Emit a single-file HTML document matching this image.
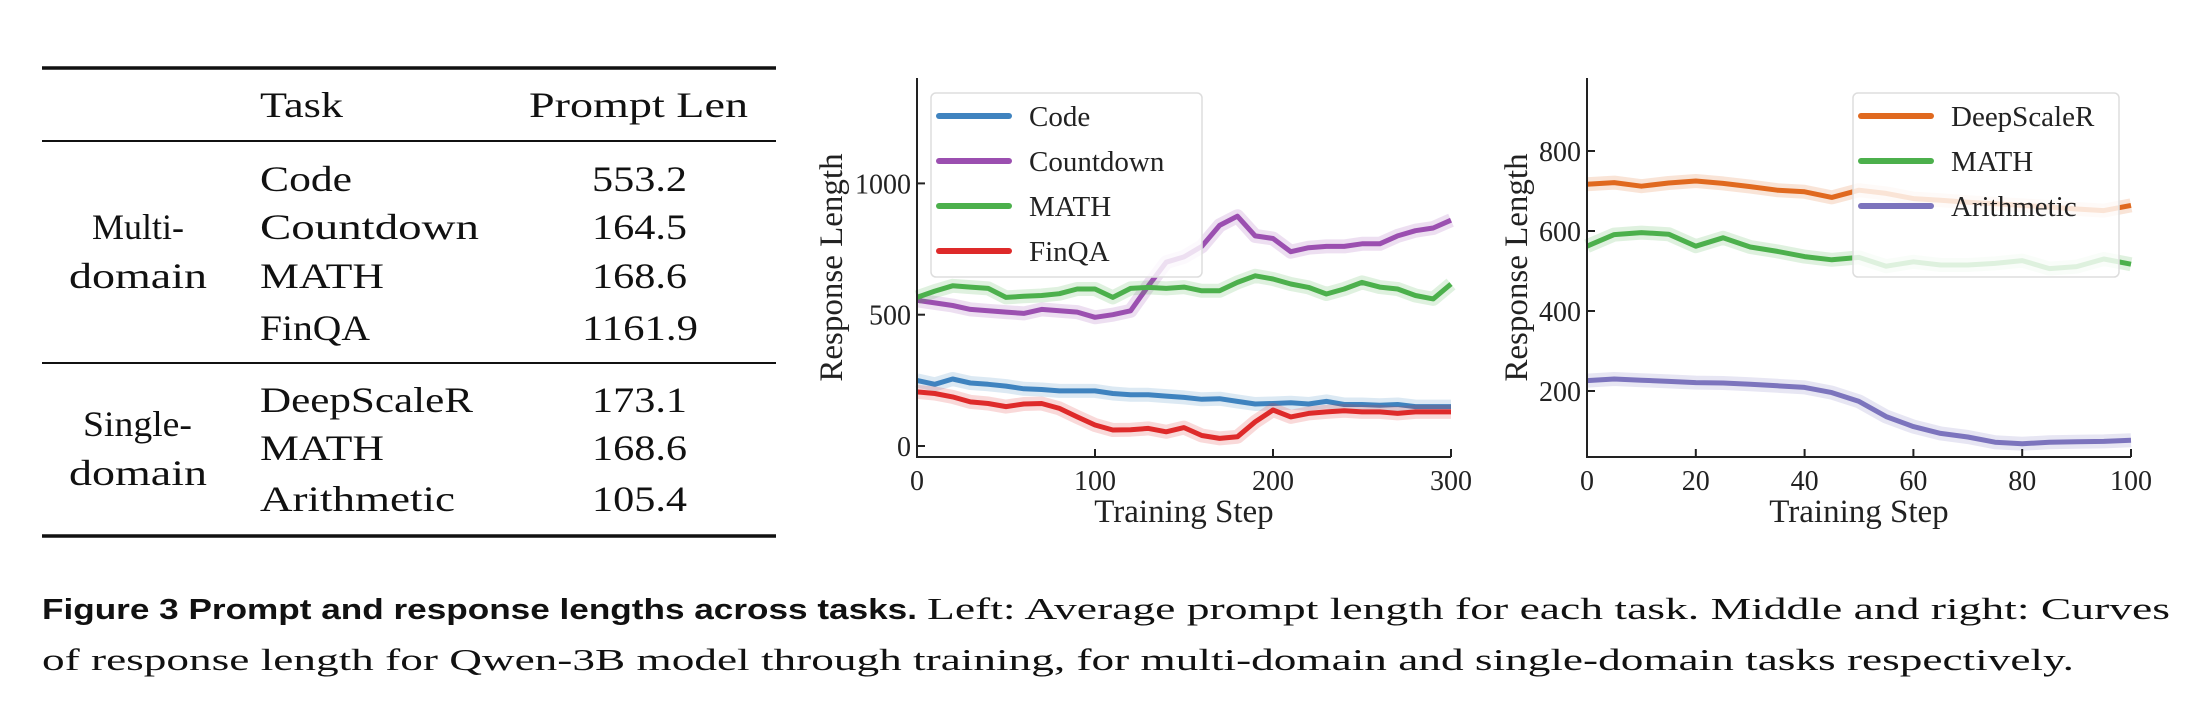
<!DOCTYPE html>
<html><head><meta charset="utf-8"><style>
body{margin:0;background:#fff;width:2212px;height:716px;overflow:hidden;font-family:"Liberation Serif",serif;}
svg{position:absolute;left:0;top:0}
</style></head><body>
<svg id="s" width="2212" height="716" xmlns="http://www.w3.org/2000/svg">
<g font-family="Liberation Serif, serif" font-size="36" fill="#111">
<line x1="42" x2="776" y1="68" y2="68" stroke="#111" stroke-width="3.5"/>
<line x1="42" x2="776" y1="141" y2="141" stroke="#111" stroke-width="2"/>
<line x1="42" x2="776" y1="363" y2="363" stroke="#111" stroke-width="2"/>
<line x1="42" x2="776" y1="536" y2="536" stroke="#111" stroke-width="3.5"/>
<text x="260" y="117" textLength="83" lengthAdjust="spacingAndGlyphs">Task</text>
<text x="529" y="117" textLength="219" lengthAdjust="spacingAndGlyphs">Prompt Len</text>
<text x="92" y="239" textLength="92" lengthAdjust="spacingAndGlyphs">Multi-</text>
<text x="69" y="288" textLength="138" lengthAdjust="spacingAndGlyphs">domain</text>
<text x="83" y="436" textLength="109" lengthAdjust="spacingAndGlyphs">Single-</text>
<text x="69" y="485" textLength="138" lengthAdjust="spacingAndGlyphs">domain</text>
<text x="260" y="191" textLength="92" lengthAdjust="spacingAndGlyphs">Code</text><text x="592" y="191" textLength="95" lengthAdjust="spacingAndGlyphs">553.2</text>
<text x="260" y="239" textLength="219" lengthAdjust="spacingAndGlyphs">Countdown</text><text x="592" y="239" textLength="95" lengthAdjust="spacingAndGlyphs">164.5</text>
<text x="260" y="288" textLength="124" lengthAdjust="spacingAndGlyphs">MATH</text><text x="592" y="288" textLength="95" lengthAdjust="spacingAndGlyphs">168.6</text>
<text x="260" y="340" textLength="110" lengthAdjust="spacingAndGlyphs">FinQA</text><text x="582" y="340" textLength="116" lengthAdjust="spacingAndGlyphs">1161.9</text>
<text x="260" y="412" textLength="213" lengthAdjust="spacingAndGlyphs">DeepScaleR</text><text x="592" y="412" textLength="95" lengthAdjust="spacingAndGlyphs">173.1</text>
<text x="260" y="460" textLength="124" lengthAdjust="spacingAndGlyphs">MATH</text><text x="592" y="460" textLength="95" lengthAdjust="spacingAndGlyphs">168.6</text>
<text x="260" y="511" textLength="195" lengthAdjust="spacingAndGlyphs">Arithmetic</text><text x="592" y="511" textLength="95" lengthAdjust="spacingAndGlyphs">105.4</text>
</g>
<g id="c1"></g>
<g id="c2"></g>
<g font-size="31" fill="#111">
<text x="42" y="619" textLength="875" lengthAdjust="spacingAndGlyphs" font-family="Liberation Sans, sans-serif" font-weight="bold" font-size="29">Figure 3  Prompt and response lengths across tasks.</text>
<text x="927" y="619" textLength="1243" lengthAdjust="spacingAndGlyphs" font-family="Liberation Serif, serif">Left: Average prompt length for each task. Middle and right: Curves</text>
<text x="42" y="670" textLength="2032" lengthAdjust="spacingAndGlyphs" font-family="Liberation Serif, serif">of response length for Qwen-3B model through training, for multi-domain and single-domain tasks respectively.</text>
</g>
</svg>
<script>
const steps1=[0,10,20,30,40,50,60,70,80,90,100,110,120,130,140,150,160,170,180,190,200,210,220,230,240,250,260,270,280,290,300];
const code=[250,235,255,240,235,228,218,215,210,210,210,200,195,195,190,185,178,180,170,160,162,165,160,170,158,158,155,158,150,150,150];
const countdown=[555,545,535,520,515,510,505,520,515,510,490,500,515,610,700,720,760,840,875,800,790,740,755,760,760,770,770,800,820,830,860];
const math1=[566,590,610,605,600,566,570,573,580,598,598,566,600,604,600,605,591,591,623,648,636,617,604,579,598,623,605,598,573,560,617];
const finqa=[206,200,187,168,162,150,160,162,143,111,80,61,62,67,54,70,40,29,35,92,137,111,124,130,134,130,130,124,130,130,130];
const ticks1x=[0,100,200,300];
const ticks1y=[0,500,1000];
const steps2=[0,5,10,15,20,25,30,35,40,45,50,55,60,65,70,75,80,85,90,95,100];
const deepscaler=[717,721,712,720,725,719,711,702,698,684,702,694,681,677,672,668,664,660,655,651,664];
const math2=[562,591,596,592,562,583,560,549,536,528,534,512,523,515,515,519,526,506,511,530,517];
const arithmetic=[226,230,227,224,221,220,217,213,209,196,174,136,111,94,85,72,68,72,73,74,77];
const ticks2x=[0,20,40,60,80,100];
const ticks2y=[200,400,600,800];
const NS='http://www.w3.org/2000/svg';
function mk(p,tag,attrs){const e=document.createElementNS(NS,tag);for(const k in attrs)e.setAttribute(k,attrs[k]);p.appendChild(e);return e;}
function chart(g,o){
  const sx=v=>o.x0+(v-o.xmin)/(o.xmax-o.xmin)*(o.x1-o.x0);
  const sy=v=>o.yA+(v-o.vA)/(o.vB-o.vA)*(o.yB-o.yA);
  o.series.forEach(s=>{
    const d=s.vals.map((v,i)=>(i?'L':'M')+sx(o.steps[i]).toFixed(1)+' '+sy(v).toFixed(1)).join(' ');
    const h=mk(g,'path',{d:d,fill:'none',stroke:s.color,'stroke-opacity':0.18,'stroke-width':14,'stroke-linejoin':'round'});
    
    
    const p=mk(g,'path',{d:d,fill:'none',stroke:s.color,'stroke-width':5,'stroke-linejoin':'round'});
    
    
  });
  const ax=mk(g,'path',{d:`M${o.x0} ${o.top} L${o.x0} ${o.bot} L${o.x1} ${o.bot}`,fill:'none',stroke:'#222','stroke-width':2});
  
  
  o.tx.forEach(t=>{
    const x=sx(t);
    mk(g,'line',{x1:x,x2:x,y1:o.bot,y2:o.bot-8,stroke:'#222','stroke-width':2});
    const tt=mk(g,'text',{x:x,y:o.bot+33,'text-anchor':'middle','font-size':28,fill:'#222'});
    tt.textContent=t;
    
    
  });
  o.ty.forEach(t=>{
    const y=sy(t);
    mk(g,'line',{x1:o.x0,x2:o.x0+8,y1:y,y2:y,stroke:'#222','stroke-width':2});
    const tt=mk(g,'text',{x:o.x0-6,y:y+10,'text-anchor':'end','font-size':28,fill:'#222'});
    tt.textContent=t;
    
    
  });
  const xl=mk(g,'text',{x:(o.x0+o.x1)/2,y:o.bot+65,'text-anchor':'middle','font-size':33,fill:'#222'});
  xl.textContent='Training Step';
  
  
  const yl=mk(g,'text',{x:0,y:0,'text-anchor':'middle','font-size':33,fill:'#222',transform:`translate(${o.ylx},${(o.top+o.bot)/2}) rotate(-90)`});
  yl.textContent='Response Length';
  
  
  const lg=mk(g,'g',{});
  
  
  mk(lg,'rect',{x:o.lx,y:93,width:o.lw,height:184,rx:5,fill:'#fff','fill-opacity':0.82,stroke:'#ddd','stroke-width':1.5});
  o.series.forEach((s,i)=>{
    const y=116+i*45;
    mk(lg,'line',{x1:o.lx+8,x2:o.lx+78,y1:y,y2:y,stroke:s.color,'stroke-width':6,'stroke-linecap':'round'});
    const t=mk(lg,'text',{x:o.lx+98,y:y+10,'font-size':29,fill:'#222'});
    t.textContent=s.label;
    
    
  });
}
chart(document.getElementById('c1'),{x0:917,x1:1451,xmin:0,xmax:300,yA:446,vA:0,yB:183.4,vB:1000,top:78,bot:457,steps:steps1,tx:ticks1x,ty:ticks1y,ylx:842,lx:931,lw:271,
 series:[{key:'code',label:'Code',color:'#3f83bf',vals:code},{key:'countdown',label:'Countdown',color:'#9b4fb0',vals:countdown},{key:'math',label:'MATH',color:'#4cb04c',vals:math1},{key:'finqa',label:'FinQA',color:'#de2a2a',vals:finqa}]});
chart(document.getElementById('c2'),{x0:1587,x1:2131,xmin:0,xmax:100,yA:391,vA:200,yB:151,vB:800,top:78,bot:457,steps:steps2,tx:ticks2x,ty:ticks2y,ylx:1527,lx:1853,lw:266,
 series:[{key:'deepscaler',label:'DeepScaleR',color:'#e0691f',vals:deepscaler},{key:'math',label:'MATH',color:'#4cb04c',vals:math2},{key:'arithmetic',label:'Arithmetic',color:'#7c74bd',vals:arithmetic}]});
</script>
</body></html>
